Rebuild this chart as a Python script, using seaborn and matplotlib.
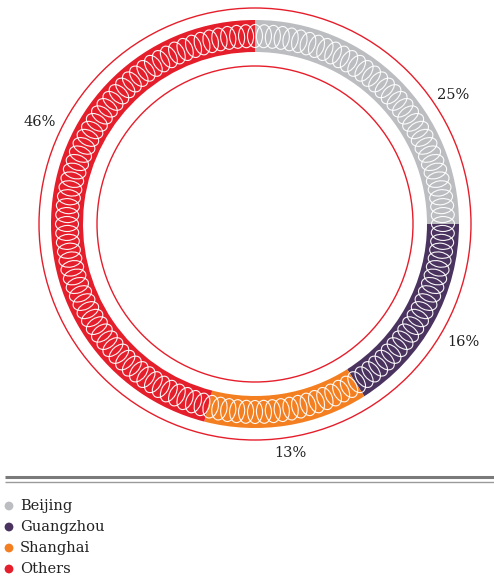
import numpy as np
import matplotlib
matplotlib.use("Agg")
import matplotlib.pyplot as plt
from matplotlib.patches import Ellipse, Circle
import seaborn as sns

# Data
cities = ["Beijing", "Guangzhou", "Shanghai", "Others"]
shares = [25, 16, 13, 46]
share_labels = ["25%", "16%", "13%", "46%"]
colors = ["#BCBDC0", "#4B3360", "#F47F20", "#E51E2B"]

sns.set_style("white")
plt.rcParams["font.family"] = ["DejaVu Serif"]

W, H = 494, 581
fig = plt.figure(figsize=(W / 100, H / 100), dpi=100)
ax = fig.add_axes([0, 0, 1, 1])
ax.set_xlim(0, W)
ax.set_ylim(0, H)
ax.set_aspect("equal")
ax.axis("off")

cx, cy = 255, H - 224
r_out, ring_w = 204, 32
palette = sns.color_palette(colors)

ax.pie(shares, colors=palette, startangle=90, counterclock=False,
       radius=r_out, center=(cx, cy), frame=True,
       wedgeprops=dict(width=ring_w, linewidth=0))
ax.set_xlim(0, W)
ax.set_ylim(0, H)
ax.axis("off")

# thin red guide circles
for r in (216, 158):
    ax.add_patch(Circle((cx, cy), r, fill=False, ec="#E51E2B", lw=1.0))

# coil of white loops along the ring
r_mid = r_out - ring_w / 2
n_loops = 132
for t in np.linspace(0, 2 * np.pi, n_loops, endpoint=False):
    x = cx + r_mid * np.cos(t)
    y = cy + r_mid * np.sin(t)
    ax.add_patch(Ellipse((x, y), width=23, height=15,
                         angle=np.degrees(t), fill=False,
                         ec="white", lw=0.8, alpha=0.95))

# percentage labels
label_angles = [57, 119.5, 171.3, 295.4]   # clockwise from 12 o'clock
label_dist = [236, 239, 232, 238]
for txt, a, d in zip(share_labels, label_angles, label_dist):
    ar = np.radians(a)
    ax.text(cx + d * np.sin(ar), cy + d * np.cos(ar), txt,
            ha="center", va="center", fontsize=10.5, color="#222222")

# double rule above legend
ax.plot([5, W], [H - 477, H - 477], color="#7a7a7a", lw=2.2, solid_capstyle="butt")
ax.plot([5, W], [H - 481.5, H - 481.5], color="#9a9a9a", lw=1.0, solid_capstyle="butt")

# legend
for i, (name, c) in enumerate(zip(cities, palette)):
    y = H - (506 + 21 * i)
    ax.scatter([9], [y], s=40, color=c, edgecolor="none")
    ax.text(20, y, name, ha="left", va="center", fontsize=10.5, color="#222222")

fig.savefig("out.png", dpi=100)
